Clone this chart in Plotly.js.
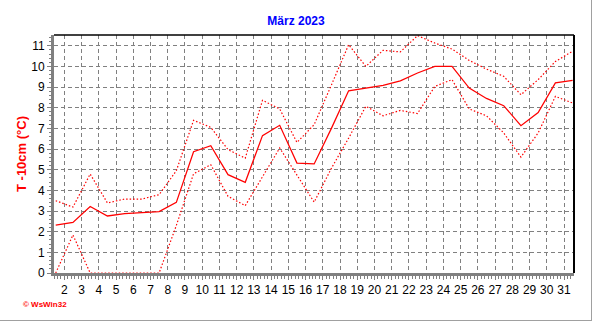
<!DOCTYPE html>
<html>
<head>
<meta charset="utf-8">
<script src="https://cdn.plot.ly/plotly-3.0.1.min.js"></script>
<style>
html,body{margin:0;padding:0;background:#fff;}
#chart{width:592px;height:321px;}
</style>
</head>
<body>
<div id="chart"></div>
<script>
// Day positions (noon of each day, 1..31 March)
var days = [1.5,2.5,3.5,4.5,5.5,6.5,7.5,8.5,9.5,10.5,11.5,12.5,13.5,14.5,15.5,16.5,17.5,18.5,19.5,20.5,21.5,22.5,23.5,24.5,25.5,26.5,27.5,28.5,29.5,30.5,31.5];
var tMean = [2.32,2.45,3.22,2.76,2.87,2.93,2.97,3.42,5.87,6.16,4.76,4.39,6.65,7.15,5.32,5.28,7.0,8.82,8.95,9.08,9.3,9.68,10.0,10.0,8.95,8.45,8.1,7.13,7.77,9.2,9.32];
var tMax = [3.5,3.19,4.79,3.39,3.58,3.58,3.79,4.95,7.39,7.05,5.97,5.56,8.36,7.94,6.32,7.18,9.1,11.05,10.0,10.78,10.7,11.49,11.13,10.84,10.29,9.87,9.52,8.63,9.36,10.24,10.73];
var tMin = [0,1.84,0,0,0,0,0,2.3,4.8,5.24,3.71,3.26,4.65,6.05,4.74,3.43,5.07,6.53,8.07,7.61,7.87,7.72,9.03,9.36,7.94,7.61,6.78,5.61,6.78,8.55,8.23];
var xTicks = [2,3,4,5,6,7,8,9,10,11,12,13,14,15,16,17,18,19,20,21,22,23,24,25,26,27,28,29,30,31];
var yTicks = [0,1,2,3,4,5,6,7,8,9,10,11];

var traces = [
  {x: days, y: tMax, mode: 'lines', line: {color: '#ff0000', width: 1.2, dash: '1.5px,2px'}, hoverinfo: 'skip'},
  {x: days, y: tMin, mode: 'lines', line: {color: '#ff0000', width: 1.2, dash: '1.5px,2px'}, hoverinfo: 'skip'},
  {x: days, y: tMean, mode: 'lines', line: {color: '#ff0000', width: 1.25}, hoverinfo: 'skip'}
];

var layout = {
  width: 592, height: 321,
  margin: {l: 54, r: 18, t: 35, b: 48},
  paper_bgcolor: '#ffffff', plot_bgcolor: '#ffffff',
  showlegend: false,
  font: {family: 'Liberation Sans, Arial, sans-serif', size: 12, color: '#000'},
  title: {text: '<b>März 2023</b>', font: {family: 'Liberation Sans, Arial, sans-serif', size: 12, color: '#0000ff'},
          x: 0.5, xref: 'container', xanchor: 'center', y: 1 - 21/321, yref: 'container', yanchor: 'middle'},
  xaxis: {
    range: [1.40, 31.58], tickmode: 'array', tickvals: xTicks, ticktext: xTicks.map(String),
    showgrid: true, gridcolor: '#808080', gridwidth: 1, griddash: '4px,3px',
    showline: true, linecolor: '#808080', linewidth: 3,
    ticks: 'outside', ticklen: 4, tickcolor: '#808080', tickwidth: 1,
    minor: {dtick: 0.2, tick0: 0, ticks: 'outside', ticklen: 3, tickcolor: '#808080', showgrid: false},
    zeroline: false, fixedrange: true, tickfont: {size: 12}
  },
  yaxis: {
    range: [0, 11.52], tickmode: 'array', tickvals: yTicks, ticktext: yTicks.map(String),
    showgrid: true, gridcolor: '#808080', gridwidth: 1, griddash: '4px,3px',
    showline: true, linecolor: '#808080', linewidth: 3,
    ticks: 'outside', ticklen: 4, tickcolor: '#808080', tickwidth: 1,
    minor: {dtick: 0.2, tick0: 0, ticks: 'outside', ticklen: 2, tickcolor: '#808080', showgrid: false},
    zeroline: false, fixedrange: true, tickfont: {size: 12},
    title: {text: '<b>T -10cm (°C)</b>', font: {size: 13, color: '#ff0000'}, standoff: 2}
  },
  shapes: [
    {type: 'line', xref: 'paper', yref: 'paper', x0: 0, x1: 1, y0: 1, y1: 1, line: {color: '#000', width: 1.5}},
    {type: 'line', xref: 'paper', yref: 'paper', x0: 1, x1: 1, y0: 0, y1: 1, line: {color: '#000', width: 2}},
    {type: 'line', xref: 'paper', yref: 'paper', x0: -54/520, x1: 538/520, y0: -47.5/238, y1: -47.5/238, line: {color: '#a0a0a0', width: 1}},
    {type: 'line', xref: 'paper', yref: 'paper', x0: 537.5/520, x1: 537.5/520, y0: -48/238, y1: 1 + 35/238, line: {color: '#a0a0a0', width: 1}}
  ],
  annotations: [
    {text: '<b>© WsWin32</b>', xref: 'paper', yref: 'paper', x: (21 - 54)/520, y: (273 - 304)/238,
     xanchor: 'left', yanchor: 'middle', showarrow: false, font: {size: 8, color: '#ff0000'}}
  ]
};

Plotly.newPlot('chart', traces, layout, {staticPlot: true, displayModeBar: false});
</script>
</body>
</html>
